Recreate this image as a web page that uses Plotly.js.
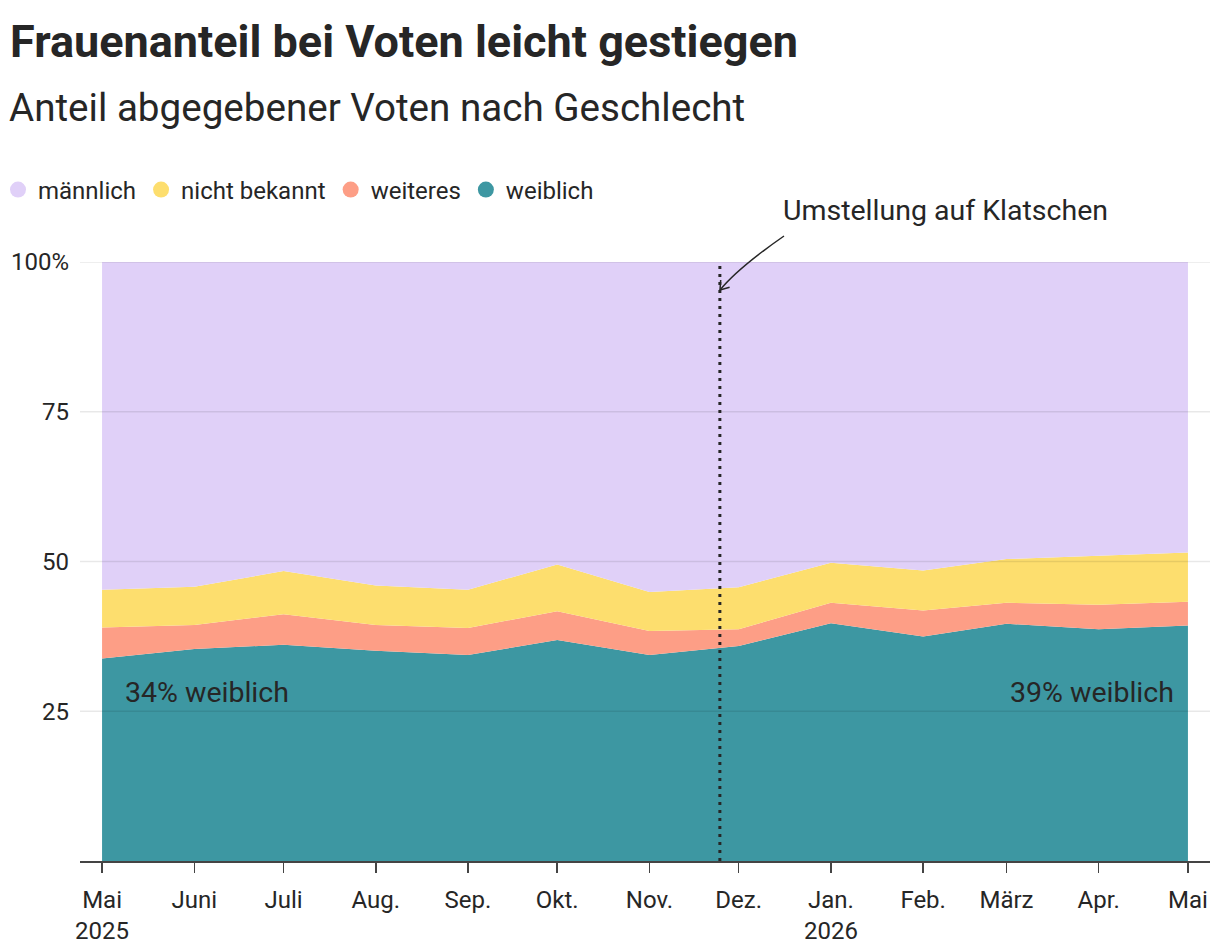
<!DOCTYPE html>
<html>
<head>
<meta charset="utf-8">
<script src="https://cdn.plot.ly/plotly-3.0.1.min.js"></script>
<style>
  html, body { margin: 0; padding: 0; background: #fff; }
  #chart { width: 1220px; height: 952px; }
</style>
</head>
<body>
<div id="chart"></div>
<script>
// ---- Data ----
const months = ['2025-05-01','2025-06-01','2025-07-01','2025-08-01','2025-09-01','2025-10-01','2025-11-01','2025-12-01','2026-01-01','2026-02-01','2026-03-01','2026-04-01','2026-05-01'];
const tickLabels = ['Mai<br>2025','Juni','Juli','Aug.','Sep.','Okt.','Nov.','Dez.','Jan.<br>2026','Feb.','März','Apr.','Mai'];
const weiblich     = [33.8, 35.4, 36.1, 35.1, 34.4, 36.9, 34.4, 35.9, 39.7, 37.5, 39.6, 38.7, 39.3];
const weiteres     = [ 5.2,  4.0,  5.1,  4.3,  4.5,  4.8,  4.0,  2.8,  3.4,  4.3,  3.5,  4.1,  4.0];
const nichtBekannt = [ 6.3,  6.4,  7.2,  6.6,  6.4,  7.8,  6.5,  7.0,  6.7,  6.7,  7.3,  8.2,  8.2];
const maennlich    = [54.7, 54.2, 51.6, 54.0, 54.7, 50.5, 55.1, 54.3, 50.2, 51.5, 49.6, 49.0, 48.5];
const switchDate = '2025-11-24 16:00';
const yTickVals = [25, 50, 75, 100];
const yTickText = ['25', '50', '75', '100%'];

// ---- Style ----
const FONT = 'Roboto, "Noto Sans", sans-serif';
const TXT = '#262626';
const colors = {
  maennlich: '#e0d0f8',
  nicht: '#fdde6e',
  weiteres: '#fd9e86',
  weiblich: '#3d97a2'
};

// plot area in pixels
const W = 1220, H = 952;
const M = { l: 80, r: 10, t: 262, b: 91, autoexpand: false };
const PW = W - M.l - M.r, PH = H - M.t - M.b;
const px = x => (x - M.l) / PW;
const py = y => (H - M.b - y) / PH;

function area(name, y, color) {
  return {
    type: 'scatter', mode: 'lines', x: months, y: y, name: name,
    stackgroup: 'one', line: { width: 0, shape: 'linear' },
    fillcolor: color, hoverinfo: 'skip', showlegend: false
  };
}
function legendItem(name, color) {
  return {
    type: 'scatter', mode: 'markers', x: [null], y: [null], name: name,
    marker: { symbol: 'circle', size: 17, color: color }, showlegend: true, hoverinfo: 'skip'
  };
}

const traces = [
  area('weiblich', weiblich, colors.weiblich),
  area('weiteres', weiteres, colors.weiteres),
  area('nicht bekannt', nichtBekannt, colors.nicht),
  area('männlich', maennlich, colors.maennlich),
  legendItem('männlich', colors.maennlich),
  legendItem('nicht bekannt', colors.nicht),
  legendItem('weiteres', colors.weiteres),
  legendItem('weiblich', colors.weiblich)
];

// arrow path (pixel -> paper)
const a0 = [784, 236], ac = [738, 268], a1 = [720, 290];
const h1 = [729.6, 287.2], h2 = [720.7, 280];
const P = p => px(p[0]) + ',' + py(p[1]);
const arrowPath = 'M' + P(a0) + ' Q' + P(ac) + ' ' + P(a1);
const headPath = 'M' + P(h1) + ' L' + P(a1) + ' L' + P(h2);

const shapes = yTickVals.map(v => ({
  type: 'line', xref: 'paper', yref: 'y', x0: 0, x1: 1, y0: v, y1: v,
  line: { color: 'rgba(0,0,0,0.09)', width: 1.5 }, layer: 'above'
}));
shapes.push({
  type: 'line', xref: 'x', yref: 'y', x0: switchDate, x1: switchDate, y0: 0, y1: 100,
  line: { color: '#262626', width: 3, dash: '3px,5px' }, layer: 'above'
});
shapes.push({ type: 'path', xref: 'paper', yref: 'paper', path: arrowPath,
  line: { color: '#262626', width: 1.5 }, layer: 'above' });
shapes.push({ type: 'path', xref: 'paper', yref: 'paper', path: headPath,
  line: { color: '#262626', width: 1.5 }, layer: 'above' });

const annotations = [
  { xref: 'paper', yref: 'paper', x: px(10), y: py(83), xanchor: 'left', yanchor: 'top', xshift: -3,
    text: 'Anteil abgegebener Voten nach Geschlecht', showarrow: false,
    font: { family: FONT, size: 38.6, color: TXT } },
  { xref: 'paper', yref: 'paper', x: px(781), y: py(211), xanchor: 'left', yanchor: 'middle',
    text: 'Umstellung auf Klatschen', showarrow: false,
    font: { family: FONT, size: 28.5, color: TXT } },
  { xref: 'x', yref: 'paper', x: months[0], y: py(692), xanchor: 'left', yanchor: 'middle', xshift: 21,
    text: Math.round(weiblich[0]) + '% weiblich', showarrow: false,
    font: { family: FONT, size: 28.5, color: TXT } },
  { xref: 'x', yref: 'paper', x: months[months.length - 1], y: py(692), xanchor: 'right', yanchor: 'middle', xshift: -12,
    text: Math.round(weiblich[weiblich.length - 1]) + '% weiblich', showarrow: false,
    font: { family: FONT, size: 28.5, color: TXT } }
];

const layout = {
  width: W, height: H,
  margin: M,
  paper_bgcolor: '#fff', plot_bgcolor: '#fff',
  font: { family: FONT, color: TXT },
  title: {
    text: '<b>Frauenanteil bei Voten leicht gestiegen</b>',
    xref: 'container', yref: 'container', x: 10 / W, xanchor: 'left',
    y: 1 - 25 / H, yanchor: 'top',
    font: { family: FONT, size: 45, color: TXT }
  },
  showlegend: true,
  legend: {
    orientation: 'h', x: px(-2), y: py(190), xanchor: 'left', yanchor: 'middle',
    font: { family: FONT, size: 24, color: TXT }, itemwidth: 30, traceorder: 'normal',
    bgcolor: 'rgba(0,0,0,0)'
  },
  xaxis: {
    type: 'date', range: ['2025-04-23 14:00', '2026-05-08 10:00'],
    tickvals: months, ticktext: tickLabels, ticks: 'outside', ticklen: 10, tickwidth: 1.5,
    tickcolor: '#444', showline: true, linecolor: '#444', linewidth: 2, showgrid: false,
    zeroline: false, tickfont: { family: FONT, size: 24, color: TXT }, ticklabelstandoff: 6,
    fixedrange: true
  },
  yaxis: {
    range: [0, 100], tickvals: yTickVals, ticktext: yTickText, ticks: '', showgrid: false,
    zeroline: false, showline: false, tickfont: { family: FONT, size: 24, color: TXT },
    ticklabelstandoff: 10, fixedrange: true
  },
  shapes: shapes,
  annotations: annotations
};

Plotly.newPlot('chart', traces, layout, { displayModeBar: false, staticPlot: true });
</script>
</body>
</html>
